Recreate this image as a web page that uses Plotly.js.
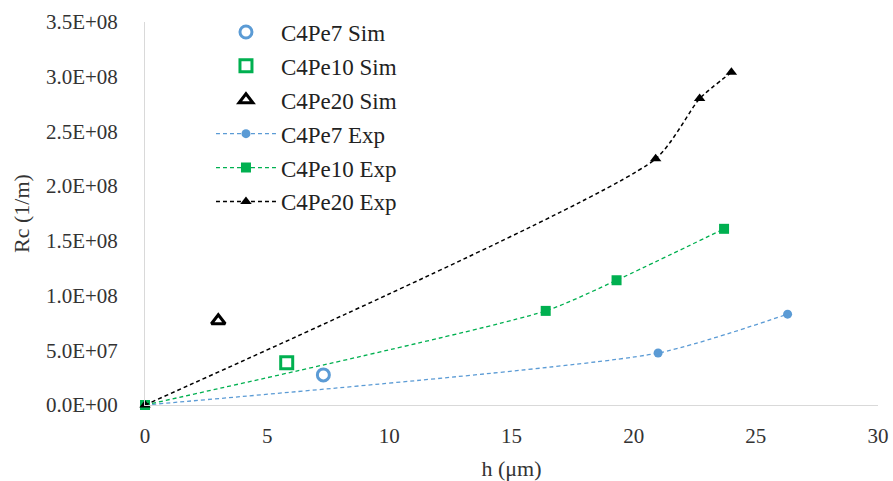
<!DOCTYPE html>
<html><head><meta charset="utf-8">
<script src="https://cdn.plot.ly/plotly-3.0.1.min.js"></script>
<style>html,body{margin:0;padding:0;background:#fff}#c{width:893px;height:481px}</style>
</head><body><div id="c"></div>
<script>
const simNames = ["C4Pe7 Sim", "C4Pe10 Sim", "C4Pe20 Sim"];
const simX = [[7.3], [5.8], [3.0]];
const simY = [[2.75e7], [3.85e7], [7.7e7]];
const expNames = ["C4Pe7 Exp", "C4Pe10 Exp", "C4Pe20 Exp"];
const exp7X = [0, 21.0, 26.3];
const exp7Y = [0, 4.75e7, 8.3e7];
const exp10X = [0, 16.4, 19.3, 23.7];
const exp10Y = [0, 8.6e7, 1.14e8, 1.61e8];
const exp20X = [0, 20.9, 22.7, 24.0];
const exp20Y = [0, 2.25e8, 2.8e8, 3.04e8];
const colors = ["#5B9BD5", "#00B050", "#000000"];
const xTicks = [0, 5, 10, 15, 20, 25, 30];
const yTicks = [0, 5e7, 1e8, 1.5e8, 2e8, 2.5e8, 3e8, 3.5e8];
const yTickText = ["0.0E+00","5.0E+07","1.0E+08","1.5E+08","2.0E+08","2.5E+08","3.0E+08","3.5E+08"];

const simSymbols = ["circle-open", "square-open", "triangle-up-open"];
const expSymbols = ["circle", "square", "triangle-up"];
const expX = [exp7X, exp10X, exp20X];
const expY = [exp7Y, exp10Y, exp20Y];

const traces = [];
for (let i = 0; i < 3; i++) {
  traces.push({
    x: simX[i], y: simY[i], name: simNames[i], mode: "markers", type: "scatter",
    legendgroup: "s" + i, cliponaxis: false,
    marker: {symbol: simSymbols[i], size: 12, color: colors[i], line: {width: 3, color: colors[i]}}
  });
}
for (let i = 0; i < 3; i++) {
  traces.push({
    x: expX[i], y: expY[i], name: expNames[i], mode: "lines+markers", type: "scatter",
    legendgroup: "e" + i, cliponaxis: false,
    line: {shape: "spline", smoothing: 0.6, dash: "4px,3px", width: i === 2 ? 1.5 : 1.3, color: i === 2 ? "#000000" : colors[i]},
    marker: {symbol: expSymbols[i], size: i === 0 ? 9 : 10, color: colors[i]}
  });
}

const FAM = "Liberation Serif";
const layout = {
  width: 893, height: 481,
  margin: {l: 145, r: 15, t: 22, b: 76, autoexpand: false},
  paper_bgcolor: "#fff", plot_bgcolor: "#fff",
  font: {family: FAM, size: 16, color: "#333"},
  showlegend: true,
  legend: {x: 0.09, y: 1.03, xanchor: "left", yanchor: "top", bgcolor: "rgba(0,0,0,0)",
    font: {family: FAM, size: 23, color: "#222"},
    tracegroupgap: 1, itemwidth: 60},
  xaxis: {
    range: [0, 30], tickvals: xTicks, ticks: "", showgrid: false, zeroline: false, automargin: false,
    showline: true, linecolor: "#d9d9d9", linewidth: 1, ticklabelstandoff: 12,
    tickfont: {family: FAM, size: 21, color: "#333"},
    title: {text: "h (μm)", standoff: 14, font: {family: FAM, size: 22, color: "#333"}}
  },
  yaxis: {
    range: [0, 3.5e8], tickvals: yTicks, ticktext: yTickText, ticks: "", showgrid: false, zeroline: false, automargin: false,
    showline: true, linecolor: "#d9d9d9", linewidth: 1, ticklabelstandoff: 22,
    tickfont: {family: FAM, size: 21, color: "#333"},
    title: {text: "Rc (1/m)", standoff: 10, font: {family: FAM, size: 22, color: "#333"}}
  }
};
Plotly.newPlot("c", traces, layout, {displayModeBar: false, staticPlot: true});
</script></body></html>
